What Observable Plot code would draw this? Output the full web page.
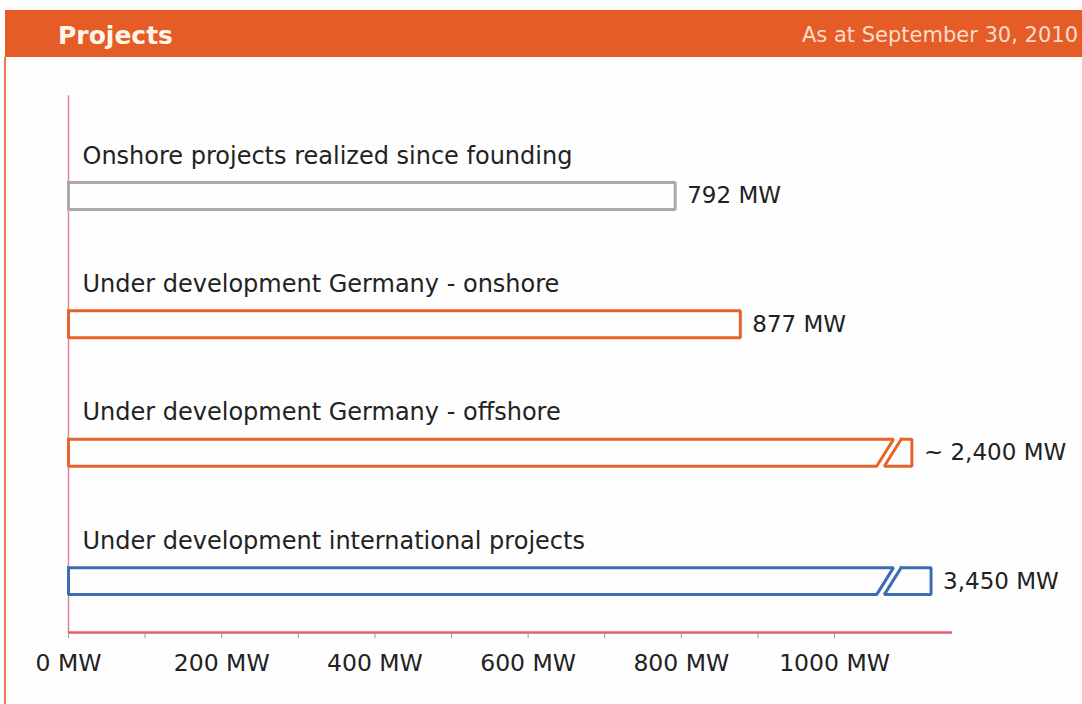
<!DOCTYPE html>
<html>
<head>
<meta charset="utf-8">
<script src="https://cdn.jsdelivr.net/npm/d3@7"></script>
<script src="https://cdn.jsdelivr.net/npm/@observablehq/plot@0.6"></script>
<style>
  html, body { margin: 0; padding: 0; background: #ffffff; }
  #page { position: relative; width: 1082px; height: 704px; overflow: hidden; background: #fefefe;
          font-family: "DejaVu Sans", sans-serif; }
  #header { position: absolute; left: 5px; top: 10px; width: 1077px; height: 47px; background: #e65c27; overflow: hidden; }
  #title { position: absolute; left: 53px; top: 2px; line-height: 47px; font-size: 25px; font-weight: bold; color: #fff6ea; }
  #asat { position: absolute; right: 4px; top: 2px; line-height: 47px; font-size: 21px; color: #fbdccd; white-space: nowrap; }
  #leftborder { position: absolute; left: 4px; top: 57px; width: 2px; height: 647px; background: #ec7a55; }
  #chart { position: absolute; left: 0; top: 57px; }
</style>
</head>
<body>
<div id="page">
  <div id="header">
    <span id="title">Projects</span>
    <span id="asat">As at September 30, 2010</span>
  </div>
  <div id="leftborder"></div>
  <div id="chart"></div>
</div>
<script>
// ---- data ----
const categories = [
  "Onshore projects realized since founding",
  "Under development Germany - onshore",
  "Under development Germany - offshore",
  "Under development international projects"
];
const values = [792, 877, 2400, 3450];            // MW
const valueLabels = ["792 MW", "877 MW", "~ 2,400 MW", "3,450 MW"];
const drawnLengths = [792, 877, 1101, 1126];      // length drawn on the (broken) axis, MW
const barColors = ["#a9a9a9", "#e8622c", "#e8622c", "#3c6cb4"];
const axisTicks = [0, 100, 200, 300, 400, 500, 600, 700, 800, 900, 1000];
const axisMax = 1154;

// ---- build bar outlines (broken where value exceeds the axis) ----
const H = 0.105, breakAt = 1071, slant = 11, gap = 5;
const pts = [];
categories.forEach((c, i) => {
  const top = i - H, bot = i + H, len = drawnLengths[i], color = barColors[i];
  const add = (id, arr) => arr.forEach(([x, y]) => pts.push({id, x, y, color}));
  if (values[i] <= axisMax) {
    add(i + "a", [[0, top], [len, top], [len, bot], [0, bot], [0, top]]);
  } else {
    add(i + "a", [[0, top], [breakAt - gap + slant, top], [breakAt - gap - slant, bot], [0, bot], [0, top]]);
    add(i + "b", [[breakAt + gap + slant, top], [len, top], [len, bot], [breakAt + gap - slant, bot], [breakAt + gap + slant, top]]);
  }
});

const fam = '"DejaVu Sans", sans-serif';
const chart = Plot.plot({
  width: 1082,
  height: 647,
  marginLeft: 68,
  marginRight: 130,
  marginTop: 10,
  marginBottom: 72,
  style: {background: "transparent", fontFamily: fam, fontSize: "23px", color: "#222"},
  x: {domain: [0, axisMax], axis: null},
  y: {domain: [-1, 3.4], range: [10, 575], axis: null},
  color: {type: "identity"},
  marks: [
    Plot.ruleX([0], {y1: -0.78, y2: 3.4, stroke: "#e08690", strokeWidth: 1.5}),
    Plot.axisX(axisTicks, {
      anchor: "bottom",
      label: null,
      tickSize: 6,
      tickPadding: 16,
      stroke: "#9a9a9a",
      tickFormat: d => d % 200 === 0 ? `${d} MW` : "",
      fill: "#222",
      fontSize: 23.5
    }),
    Plot.ruleY([3.4], {x1: 0, x2: axisMax, stroke: "#e0606e", strokeWidth: 2.5}),
    Plot.line(pts, {x: "x", y: "y", z: "id", stroke: "color", strokeWidth: 3, strokeLinejoin: "miter", strokeLinecap: "square"}),
    Plot.text(categories, {x: 0, y: (d, i) => i, dx: 14, dy: -40, text: d => d, textAnchor: "start", fontSize: 24, fill: "#222"}),
    Plot.text(valueLabels, {x: (d, i) => drawnLengths[i], y: (d, i) => i, dx: 12, text: d => d, textAnchor: "start", fontSize: 23, fill: "#222"})
  ]
});
document.getElementById("chart").appendChild(chart);
</script>
</body>
</html>
